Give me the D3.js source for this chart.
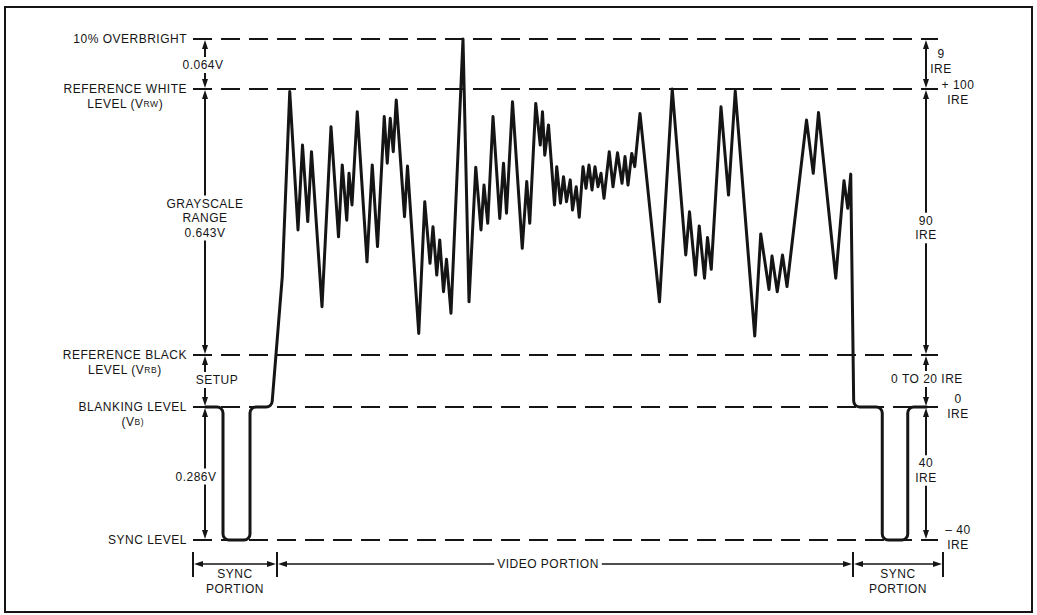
<!DOCTYPE html>
<html><head><meta charset="utf-8">
<script src="https://cdn.jsdelivr.net/npm/d3@7"></script>
<style>
body{margin:0;background:#fff}
text{font-family:"Liberation Sans",Arial,Helvetica,sans-serif;font-size:12px;letter-spacing:0.5px;fill:#151515}
</style>
</head><body>
<svg id="c" width="1037" height="615"></svg>
<script>
// ---------- DATA ----------
// Signal levels in IRE units (overbright, white, black, blanking, sync)
const levelIRE = [109, 100, 7.5, 0, -40];
const levelLabels = [
  ["10% OVERBRIGHT"],
  ["REFERENCE WHITE", "LEVEL (V_{RW})"],
  ["REFERENCE BLACK", "LEVEL (V_{RB})"],
  ["BLANKING LEVEL", "(V_{B)}"],
  ["SYNC LEVEL"]
];
const levelIRELabels = [null, ["+ 100", "IRE"], null, ["0", "IRE"], ["\u2013 40", "IRE"]];
// Voltage spans (left) and IRE spans (right) between adjacent levels
const voltSpanLabels = [["0.064V"], ["GRAYSCALE", "RANGE", "0.643V"], ["SETUP"], ["0.286V"]];
const ireSpanLabels = [["9", "IRE"], ["90", "IRE"], ["0 TO 20 IRE"], ["40", "IRE"]];
// Horizontal portions, in percent of the line period
const portionBounds = [0, 11.2, 88, 100];
const portionLabels = [["SYNC", "PORTION"], ["VIDEO PORTION"], ["SYNC", "PORTION"]];
// Waveform: time (percent of line) and level (IRE)
const waveT = [1.6, 4.0, 4.0, 7.6, 7.6, 10.5, 11.9, 12.9,
  14.0, 14.6, 15.3, 15.8, 17.2, 18.4, 19.4, 19.9, 20.5, 20.8,
  21.2, 21.9, 23.2, 23.9, 24.6, 25.5, 25.9, 26.3, 26.7, 27.1,
  28.2, 28.6, 30.1, 30.9, 31.6, 32.0, 32.5, 32.9, 33.4, 33.8,
  34.4, 36.0, 36.8, 37.7, 38.4, 38.8, 39.3, 40.0, 40.9, 41.4,
  41.8, 42.6, 43.9, 44.5, 44.9, 45.7, 46.3, 46.6, 46.9, 47.4,
  48.2, 48.5, 49.0, 49.4, 49.8, 50.3, 50.6, 51.1, 51.5, 52.0,
  52.4, 52.8, 53.2, 53.6, 54.0, 54.4, 54.8, 55.5, 56.0, 56.6,
  57.2, 57.6, 58.0, 58.5, 58.9, 59.6, 62.2, 63.9, 65.7, 66.2,
  67.0, 67.5, 68.2, 68.6, 69.1, 70.4, 71.4, 72.3, 74.9, 75.7,
  76.8, 77.2, 77.9, 78.6, 79.2, 81.8, 82.7, 83.4, 85.7, 86.8,
  87.3, 87.7, 88.1, 91.9, 91.9, 95.3, 95.3, 97.9];
const waveIRE = [0, 0, -40, -40, 0, 0, 34.6, 99.1,
  51.0, 80.5, 53.9, 78.2, 24.3, 86.9, 48.6, 73.6, 54.4, 70.7,
  59.7, 92.1, 39.9, 73.6, 45.2, 90.4, 74.2, 89.8, 78.2, 96.2,
  55.6, 73.2, 15.0, 60.8, 39.4, 52.1, 35.3, 47.5, 29.5, 40.8,
  22.0, 109, 26.0, 72.8, 51.0, 66.6, 53.3, 90.4, 55.0, 74.2,
  56.8, 95.6, 44.6, 67.8, 53.3, 95.0, 80.5, 92.1, 77.0, 87.5,
  59.7, 73.0, 60.3, 69.5, 60.8, 68.4, 57.9, 66.0, 55.4, 73.0,
  65.5, 73.6, 64.9, 73.0, 66.0, 70.7, 62.0, 78.2, 66.0, 77.8,
  67.2, 76.5, 66.6, 77.6, 73.0, 91.5, 26.0, 100, 42.3, 57.3,
  35.3, 52.4, 34.2, 48.4, 37.3, 93.8, 63.1, 99.3, 14.1, 49.6,
  30.3, 41.9, 29.5, 42.3, 31.3, 89.2, 70.7, 91.8, 34.2, 68.1,
  58.5, 70.4, 0, 0, -40, -40, 0, 0];

// ---------- LAYOUT ----------
const INK = "#151515";
const svg = d3.select("#c");
const x = d3.scaleLinear().domain([0, 100]).range([193, 943]);
const y = d3.scaleLinear().domain([-40, 0, 7.5, 100, 109]).range([540, 407, 355, 89, 39]);
const leftAxisX = 205, rightAxisX = 926, labelRight = 187;
const dashEnd = x(100) - 5;
const LH = 14.5;

svg.append("rect").attr("x", 5).attr("y", 7).attr("width", 1027).attr("height", 605)
  .attr("fill", "none").attr("stroke", INK).attr("stroke-width", 2);

function addText(g, px, py, str, anchor) {
  const t = g.append("text").attr("x", px).attr("y", py)
    .attr("text-anchor", anchor || "middle").attr("dominant-baseline", "central");
  const parts = str.split(/_\{(.*?)\}/);
  parts.forEach((p, i) => {
    if (!p) return;
    const ts = t.append("tspan").text(p);
    if (i % 2 === 1) ts.style("font-size", "8.5px");
  });
  return t;
}

function arrowHead(g, tx, ty, dir) {
  const L = 9, H = 3;
  let d;
  if (dir === "up") d = `M${tx},${ty}L${tx - H},${ty + L}L${tx + H},${ty + L}Z`;
  if (dir === "down") d = `M${tx},${ty}L${tx - H},${ty - L}L${tx + H},${ty - L}Z`;
  if (dir === "left") d = `M${tx},${ty}L${tx + L},${ty - H}L${tx + L},${ty + H}Z`;
  if (dir === "right") d = `M${tx},${ty}L${tx - L},${ty - H}L${tx - L},${ty + H}Z`;
  g.append("path").attr("d", d).attr("fill", INK);
}

function seg(g, x1, y1, x2, y2, w) {
  g.append("line").attr("x1", x1).attr("y1", y1).attr("x2", x2).attr("y2", y2)
    .attr("stroke", INK).attr("stroke-width", w || 2);
}

// level lines
const gLevels = svg.append("g");
levelIRE.forEach(v => {
  gLevels.append("line").attr("x1", x(0)).attr("x2", dashEnd).attr("y1", y(v)).attr("y2", y(v))
    .attr("stroke", INK).attr("stroke-width", 2).attr("stroke-dasharray", "19 9");
});

// left level labels
const gLab = svg.append("g");
levelLabels.forEach((lines, i) => {
  const yy = y(levelIRE[i]);
  const t0 = addText(gLab, labelRight, yy, lines[0], "end");
  const bb = t0.node().getBBox();
  const cx = bb.x + bb.width / 2;
  lines.slice(1).forEach((s, k) => addText(gLab, cx, yy + 15 * (k + 1), s, "middle"));
});

// right IRE level labels
const ireDy = [0, -4, 0, -8, -10];
levelIRELabels.forEach((lines, i) => {
  if (!lines) return;
  const yy = y(levelIRE[i]) + ireDy[i];
  lines.forEach((s, k) => addText(gLab, 958, yy + 14.5 * k, s, "middle"));
});

// vertical dimension arrows
function dimSpan(ax, yTop, yBot, lines, dx, dy, gapped) {
  const g = svg.append("g");
  arrowHead(g, ax, yTop + 1, "up");
  arrowHead(g, ax, yBot - 1, "down");
  const n = lines.length;
  const mid = (yTop + yBot) / 2 + dy;
  const first = mid - (n - 1) * LH / 2, last = mid + (n - 1) * LH / 2;
  const a = yTop + 8, b = yBot - 8;
  if (gapped) {
    seg(g, ax, a, ax, first - 8);
    seg(g, ax, last + 8, ax, b);
  } else seg(g, ax, a, ax, b);
  lines.forEach((s, k) => addText(g, ax + dx, first + k * LH, s, "middle"));
}
const leftDx = [-2, 0, 12, -9], leftDy = [1, -4, -1, 3];
voltSpanLabels.forEach((lines, i) =>
  dimSpan(leftAxisX, y(levelIRE[i]), y(levelIRE[i + 1]), lines, leftDx[i], leftDy[i], true));
const rightDx = [15, 0, 1, 0], rightDy = [-2.5, 6, -2, -3], rightGap = [false, true, true, true];
ireSpanLabels.forEach((lines, i) =>
  dimSpan(rightAxisX, y(levelIRE[i]), y(levelIRE[i + 1]), lines, rightDx[i], rightDy[i], rightGap[i]));

// bottom portions
const gB = svg.append("g");
const by = 564;
portionBounds.forEach(b => seg(gB, x(b), 552, x(b), 577, 2));
portionLabels.forEach((lines, i) => {
  const xa = x(portionBounds[i]) + 1, xb = x(portionBounds[i + 1]) - 1;
  arrowHead(gB, xa, by, "left");
  arrowHead(gB, xb, by, "right");
  if (lines.length === 1) {
    const cx = (xa + xb) / 2 - 17;
    const t = addText(gB, cx, by, lines[0], "middle");
    const w = t.node().getBBox().width;
    seg(gB, xa + 8, by, cx - w / 2 - 3, by, 1.5);
    seg(gB, cx + w / 2 + 3, by, xb - 8, by, 1.5);
  } else {
    seg(gB, xa + 8, by, xb - 8, by, 1.5);
    lines.forEach((s, k) => addText(gB, (xa + xb) / 2, 574 + k * 14.5, s, "middle"));
  }
});

// waveform: round only the corners where a horizontal run meets a vertical one
const pts = waveT.map((t, i) => [x(t), y(waveIRE[i])]);
function isH(a, b) { return Math.abs(b[1] - a[1]) < 0.09 * Math.abs(b[0] - a[0]); }
function isV(a, b) { return Math.abs(b[0] - a[0]) < 0.1 * Math.abs(b[1] - a[1]); }
const p = d3.path();
p.moveTo(pts[0][0], pts[0][1]);
for (let i = 1; i < pts.length - 1; i++) {
  const a = pts[i - 1], c = pts[i], n = pts[i + 1];
  if ((isH(a, c) && isV(c, n)) || (isV(a, c) && isH(c, n))) p.arcTo(c[0], c[1], n[0], n[1], 6);
  else p.lineTo(c[0], c[1]);
}
p.lineTo(pts[pts.length - 1][0], pts[pts.length - 1][1]);
svg.append("path").attr("d", p.toString()).attr("fill", "none")
  .attr("stroke", INK).attr("stroke-width", 3).attr("stroke-linejoin", "round");
</script>
</body></html>
